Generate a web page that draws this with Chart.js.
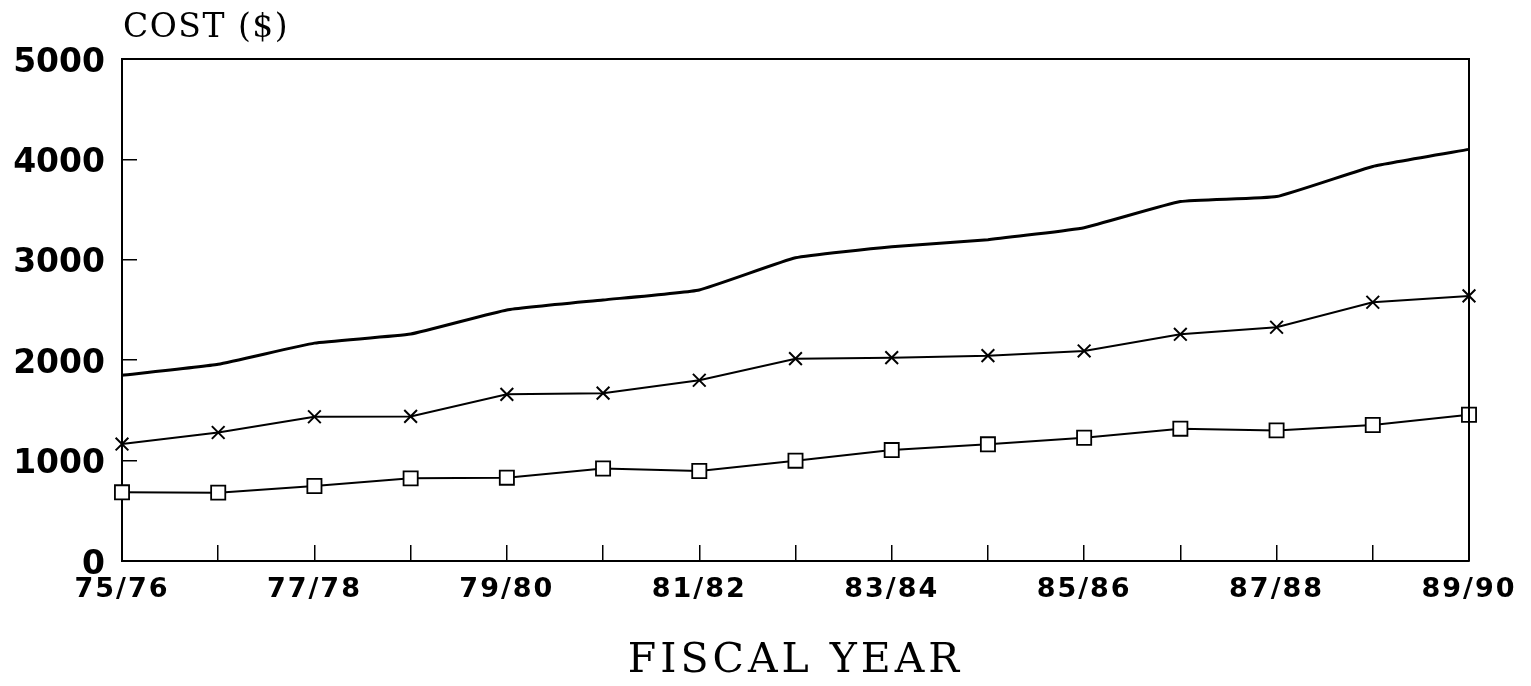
<!DOCTYPE html>
<html>
<head>
<meta charset="utf-8">
<script src="https://cdn.jsdelivr.net/npm/chart.js@4/dist/chart.umd.min.js"></script>
<style>
html,body{margin:0;padding:0;background:#fff;}
#wrap{width:1531px;height:686px;position:relative;}
</style>
</head>
<body>
<div id="wrap"><canvas id="c" width="1531" height="686"></canvas></div>
<script>
const categories = ["75/76","76/77","77/78","78/79","79/80","80/81","81/82","82/83","83/84","84/85","85/86","86/87","87/88","88/89","89/90"];
const totalCost = [1850, 1960, 2170, 2260, 2500, 2600, 2700, 3020, 3130, 3200, 3320, 3580, 3630, 3930, 4100];
const crossSeries = [1165, 1280, 1437, 1440, 1660, 1672, 1800, 2015, 2025, 2045, 2092, 2258, 2328, 2577, 2640];
const squareSeries = [684, 681, 747, 823, 830, 921, 896, 999, 1105, 1162, 1228, 1318, 1301, 1355, 1457];
const yTicks = [0, 1000, 2000, 3000, 4000, 5000];
const yAxisLabel = "COST ($)";
const xAxisLabel = "FISCAL YEAR";

function wrapSpacing(obj, method, spacing) {
  const orig = obj[method];
  obj[method] = function () {
    const ctx = this.ctx;
    ctx.save();
    ctx.letterSpacing = spacing;
    orig.apply(this, arguments);
    ctx.restore();
  };
}

const framePlugin = {
  id: 'frame',
  afterLayout(chart) {
    const xs = chart.scales.x;
    if (!xs._wrapped) {
      wrapSpacing(xs, 'drawTitle', '4px');
      wrapSpacing(xs, 'drawLabels', '2px');
      xs._wrapped = true;
    }
  },
  afterDraw(chart) {
    const ctx = chart.ctx;
    const a = chart.chartArea;
    ctx.save();
    ctx.strokeStyle = '#000';
    ctx.lineWidth = 2;
    ctx.beginPath();
    ctx.moveTo(a.left, a.top);
    ctx.lineTo(a.right, a.top);
    ctx.lineTo(a.right, a.bottom);
    ctx.stroke();
    ctx.fillStyle = '#000';
    ctx.font = '33px "DejaVu Serif"';
    ctx.letterSpacing = '1.5px';
    ctx.textAlign = 'left';
    ctx.textBaseline = 'alphabetic';
    ctx.fillText(yAxisLabel, a.left + 1, 37);
    ctx.restore();
  }
};

new Chart(document.getElementById('c'), {
  type: 'line',
  data: {
    labels: categories,
    datasets: [
      {
        label: 'Total',
        data: totalCost,
        borderColor: '#000',
        borderWidth: 3,
        pointRadius: 0,
        tension: 0.12,
        fill: false,
        clip: false
      },
      {
        label: 'Cross',
        data: crossSeries,
        borderColor: '#000',
        borderWidth: 2,
        pointStyle: 'crossRot',
        pointRadius: 9,
        pointBorderWidth: 2,
        pointBorderColor: '#000',
        pointBackgroundColor: '#fff',
        tension: 0,
        fill: false,
        clip: false
      },
      {
        label: 'Square',
        data: squareSeries,
        borderColor: '#000',
        borderWidth: 2,
        pointStyle: 'rect',
        pointRadius: 10,
        pointBorderWidth: 1.8,
        pointBorderColor: '#000',
        pointBackgroundColor: '#fff',
        tension: 0,
        fill: false,
        clip: false
      }
    ]
  },
  options: {
    responsive: false,
    animation: false,
    devicePixelRatio: 1,
    layout: { padding: { top: 59, right: 62, left: 0, bottom: 0 } },
    plugins: {
      legend: { display: false },
      tooltip: { enabled: false },
      title: { display: false }
    },
    scales: {
      x: {
        type: 'category',
        offset: false,
        grid: {
          drawOnChartArea: false,
          drawTicks: true,
          tickLength: -16,
          color: '#000',
          lineWidth: 1.5
        },
        border: { display: true, color: '#000', width: 2 },
        ticks: {
          autoSkip: false,
          maxRotation: 0,
          minRotation: 0,
          padding: 29,
          color: '#000',
          font: { family: 'DejaVu Sans', size: 27, weight: 'bold' },
          callback: function (v, i) { return i % 2 === 0 ? categories[i] : ''; }
        },
        title: {
          display: true,
          text: xAxisLabel,
          color: '#000',
          font: { family: 'DejaVu Serif', size: 41 },
          padding: { top: 0, bottom: 0 }
        },
        afterFit(scale) { scale.height = 125; scale.paddingLeft = 0; scale.paddingRight = 0; }
      },
      y: {
        type: 'linear',
        min: 0,
        max: 5000,
        afterBuildTicks(scale) { scale.ticks = yTicks.map(v => ({ value: v })); },
        grid: {
          drawOnChartArea: false,
          drawTicks: true,
          tickLength: -15,
          color: '#000',
          lineWidth: 1.5
        },
        border: { display: true, color: '#000', width: 2 },
        ticks: {
          padding: 32,
          labelOffset: 4,
          color: '#000',
          font: { family: 'DejaVu Sans', size: 33, weight: 'bold' },
          callback: function (v) { return String(v); }
        },
        afterFit(scale) { scale.width = 122; scale.paddingTop = 0; scale.paddingBottom = 0; }
      }
    }
  },
  plugins: [framePlugin]
});
</script>
</body>
</html>
